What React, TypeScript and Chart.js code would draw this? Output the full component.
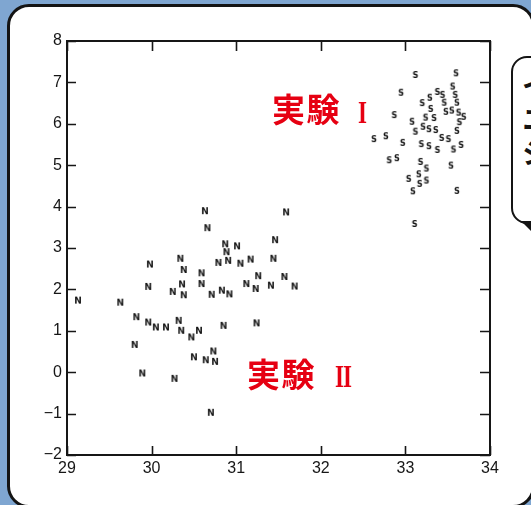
import { useEffect, useRef } from "react";
import { Chart, registerables } from "chart.js";

Chart.register(...registerables);

const xTicks = [29, 30, 31, 32, 33, 34];
const yTicks = [-2, -1, 0, 1, 2, 3, 4, 5, 6, 7, 8];

// Series N (実験 II)
const nX = [
  29.13, 29.63, 29.82, 29.8, 29.89, 29.98, 29.96, 29.96, 30.05, 30.17,
  30.27, 30.25, 30.34, 30.38, 30.36, 30.38, 30.32, 30.35, 30.47, 30.56,
  30.5, 30.59, 30.59, 30.63, 30.66, 30.71, 30.64, 30.73, 30.75, 30.7,
  30.79, 30.83, 30.85, 30.87, 30.885, 30.905, 30.92, 31.01, 31.05, 31.17,
  31.12, 31.23, 31.26, 31.24, 31.41, 31.44, 31.46, 31.59, 31.57, 31.69,
];
const nY = [
  1.73, 1.68, 1.33, 0.66, -0.03, 2.6, 2.06, 1.2, 1.08, 1.08,
  -0.16, 1.94, 2.74, 2.47, 2.12, 1.86, 1.24, 1.0, 0.84, 1.0,
  0.36, 2.39, 2.13, 3.89, 3.48, 1.87, 0.29, 0.5, 0.25, -0.98,
  2.64, 1.97, 1.12, 3.09, 2.9, 2.69, 1.88, 3.04, 2.62, 2.72,
  2.13, 2.01, 2.32, 1.18, 2.09, 2.74, 3.19, 3.86, 2.3, 2.07,
];

// Series S (実験 I)
const sX = [
  33.12, 33.6, 32.95, 33.56, 33.38, 33.44, 33.59, 33.29, 33.2, 33.46,
  33.61, 33.3, 33.48, 33.55, 33.63, 33.69, 32.87, 33.08, 33.24, 33.34,
  33.64, 33.12, 33.21, 33.28, 33.36, 33.61, 33.43, 33.51, 32.63, 32.77,
  32.97, 33.19, 33.28, 33.38, 33.57, 33.66, 32.81, 32.9, 33.18, 33.25,
  33.54, 33.16, 33.04, 33.17, 33.25, 33.09, 33.61, 33.11,
];
const sY = [
  7.18, 7.22, 6.75, 6.9, 6.77, 6.7, 6.7, 6.63, 6.5, 6.51,
  6.51, 6.36, 6.29, 6.32, 6.27, 6.17, 6.21, 6.05, 6.15, 6.14,
  6.04, 5.81, 5.93, 5.87, 5.85, 5.83, 5.66, 5.63, 5.63, 5.7,
  5.54, 5.51, 5.46, 5.37, 5.38, 5.49, 5.12, 5.17, 5.08, 4.92,
  4.99, 4.78, 4.67, 4.55, 4.63, 4.37, 4.38, 3.58,
];

function letterImage(ch: string, font: string, w: number, h: number, cap: number) {
  const c = document.createElement("canvas");
  c.width = w;
  c.height = h;
  const ctx = c.getContext("2d")!;
  ctx.font = font;
  ctx.fillStyle = "#151515";
  ctx.textAlign = "center";
  ctx.textBaseline = "alphabetic";
  ctx.fillText(ch, w / 2, h / 2 + cap / 2);
  return c;
}

const framePlugin = {
  id: "frame",
  beforeDatasetsDraw(chart: any) {
    const { ctx, chartArea: a, scales } = chart;
    ctx.save();
    ctx.strokeStyle = "#161616";
    ctx.lineWidth = 1.6;
    ctx.beginPath();
    for (const v of xTicks) {
      const px = Math.round(scales.x.getPixelForValue(v)) + 0.5;
      ctx.moveTo(px, a.bottom);
      ctx.lineTo(px, a.bottom - 9);
      ctx.moveTo(px, a.top);
      ctx.lineTo(px, a.top + 10);
    }
    for (const v of yTicks) {
      const py = Math.round(scales.y.getPixelForValue(v)) + 0.5;
      ctx.moveTo(a.left, py);
      ctx.lineTo(a.left + 9, py);
      ctx.moveTo(a.right, py);
      ctx.lineTo(a.right - 10, py);
    }
    ctx.stroke();
    ctx.lineWidth = 2;
    ctx.strokeRect(a.left, a.top, a.right - a.left, a.bottom - a.top);
    ctx.restore();
  },
};

export default function App() {
  const canvasRef = useRef<HTMLCanvasElement | null>(null);

  useEffect(() => {
    const nImg = letterImage("N", "bold 9px 'DejaVu Sans'", 10, 10, 6.6);
    const sImg = letterImage("S", "bold 9px 'DejaVu Sans Condensed'", 8, 10, 6.5);
    const chart = new Chart(canvasRef.current!, {
      type: "scatter",
      data: {
        datasets: [
          {
            label: "N",
            data: nX.map((x, i) => ({ x, y: nY[i] })),
            pointStyle: nImg as any,
          },
          {
            label: "S",
            data: sX.map((x, i) => ({ x, y: sY[i] })),
            pointStyle: sImg as any,
          },
        ],
      },
      options: {
        animation: false,
        responsive: true,
        maintainAspectRatio: false,
        events: [],
        layout: { padding: { left: 0, top: 41, right: 41, bottom: 0 } },
        plugins: { legend: { display: false }, tooltip: { enabled: false } },
        scales: {
          x: {
            type: "linear",
            min: 29,
            max: 34,
            afterFit: (s: any) => {
              s.height = 50;
            },
            grid: { display: false, drawTicks: false },
            border: { display: false },
            ticks: {
              stepSize: 1,
              padding: 4,
              color: "#161616",
              font: { family: "'Liberation Sans'", size: 16 },
            },
          },
          y: {
            type: "linear",
            min: -2,
            max: 8,
            afterFit: (s: any) => {
              s.width = 67;
            },
            grid: { display: false, drawTicks: false },
            border: { display: false },
            ticks: {
              stepSize: 1,
              padding: 5,
              color: "#161616",
              font: { family: "'Liberation Sans'", size: 16 },
              callback: (v: any) => String(v).replace("-", "\u2212"),
            },
          },
        },
      },
      plugins: [framePlugin],
    });
    return () => chart.destroy();
  }, []);

  const red = "#e60012";
  const cjk = "'Noto Sans CJK JP'";
  const kanji = {
    position: "absolute" as const,
    fontFamily: cjk,
    fontWeight: 700,
    fontSize: 33,
    lineHeight: "33px",
    color: red,
    whiteSpace: "nowrap" as const,
    letterSpacing: 1.5,
  };
  const numeral = {
    position: "absolute" as const,
    fontFamily: "'Liberation Serif'",
    fontWeight: 700,
    fontSize: 32,
    lineHeight: "32px",
    color: red,
    whiteSpace: "nowrap" as const,
    transform: "scaleX(0.72)",
    transformOrigin: "0 0",
  };

  return (
    <div
      style={{
        position: "fixed",
        left: 0,
        top: 0,
        width: 531,
        height: 505,
        overflow: "hidden",
        background: "#7fa6d1",
      }}
    >
      <div
        style={{
          position: "absolute",
          left: 7,
          top: 4,
          width: 528,
          height: 504,
          boxSizing: "border-box",
          border: "3px solid #141414",
          borderRadius: 22,
          background: "#fff",
        }}
      />
      <div
        style={{
          position: "absolute",
          left: 511,
          top: 56,
          width: 40,
          height: 168,
          boxSizing: "border-box",
          border: "2.5px solid #141414",
          borderRadius: 16,
          background: "#fff",
        }}
      />
      <div
        style={{
          position: "absolute",
          left: 521,
          top: 221,
          width: 10,
          height: 10,
          background: "#141414",
          clipPath: "polygon(0 0, 100% 0, 100% 100%)",
        }}
      />
      {["イオン", "ニュ", "シス"].map((t, i) => (
        <div
          key={t}
          style={{
            position: "absolute",
            left: 522,
            top: 70 + i * 34,
            fontFamily: cjk,
            fontWeight: 700,
            fontSize: 28,
            lineHeight: "28px",
            color: "#141414",
            whiteSpace: "nowrap",
          }}
        >
          {t}
        </div>
      ))}
      <div style={{ position: "absolute", left: 0, top: 0, width: 531, height: 505 }}>
        <canvas ref={canvasRef} />
      </div>
      <div style={{ ...kanji, left: 272, top: 92 }}>実験</div>
      <div style={{ ...numeral, left: 358, top: 96 }}>I</div>
      <div style={{ ...kanji, left: 247, top: 357 }}>実験</div>
      <div style={{ ...numeral, left: 335, top: 360, letterSpacing: -1.5 }}>II</div>
    </div>
  );
}
